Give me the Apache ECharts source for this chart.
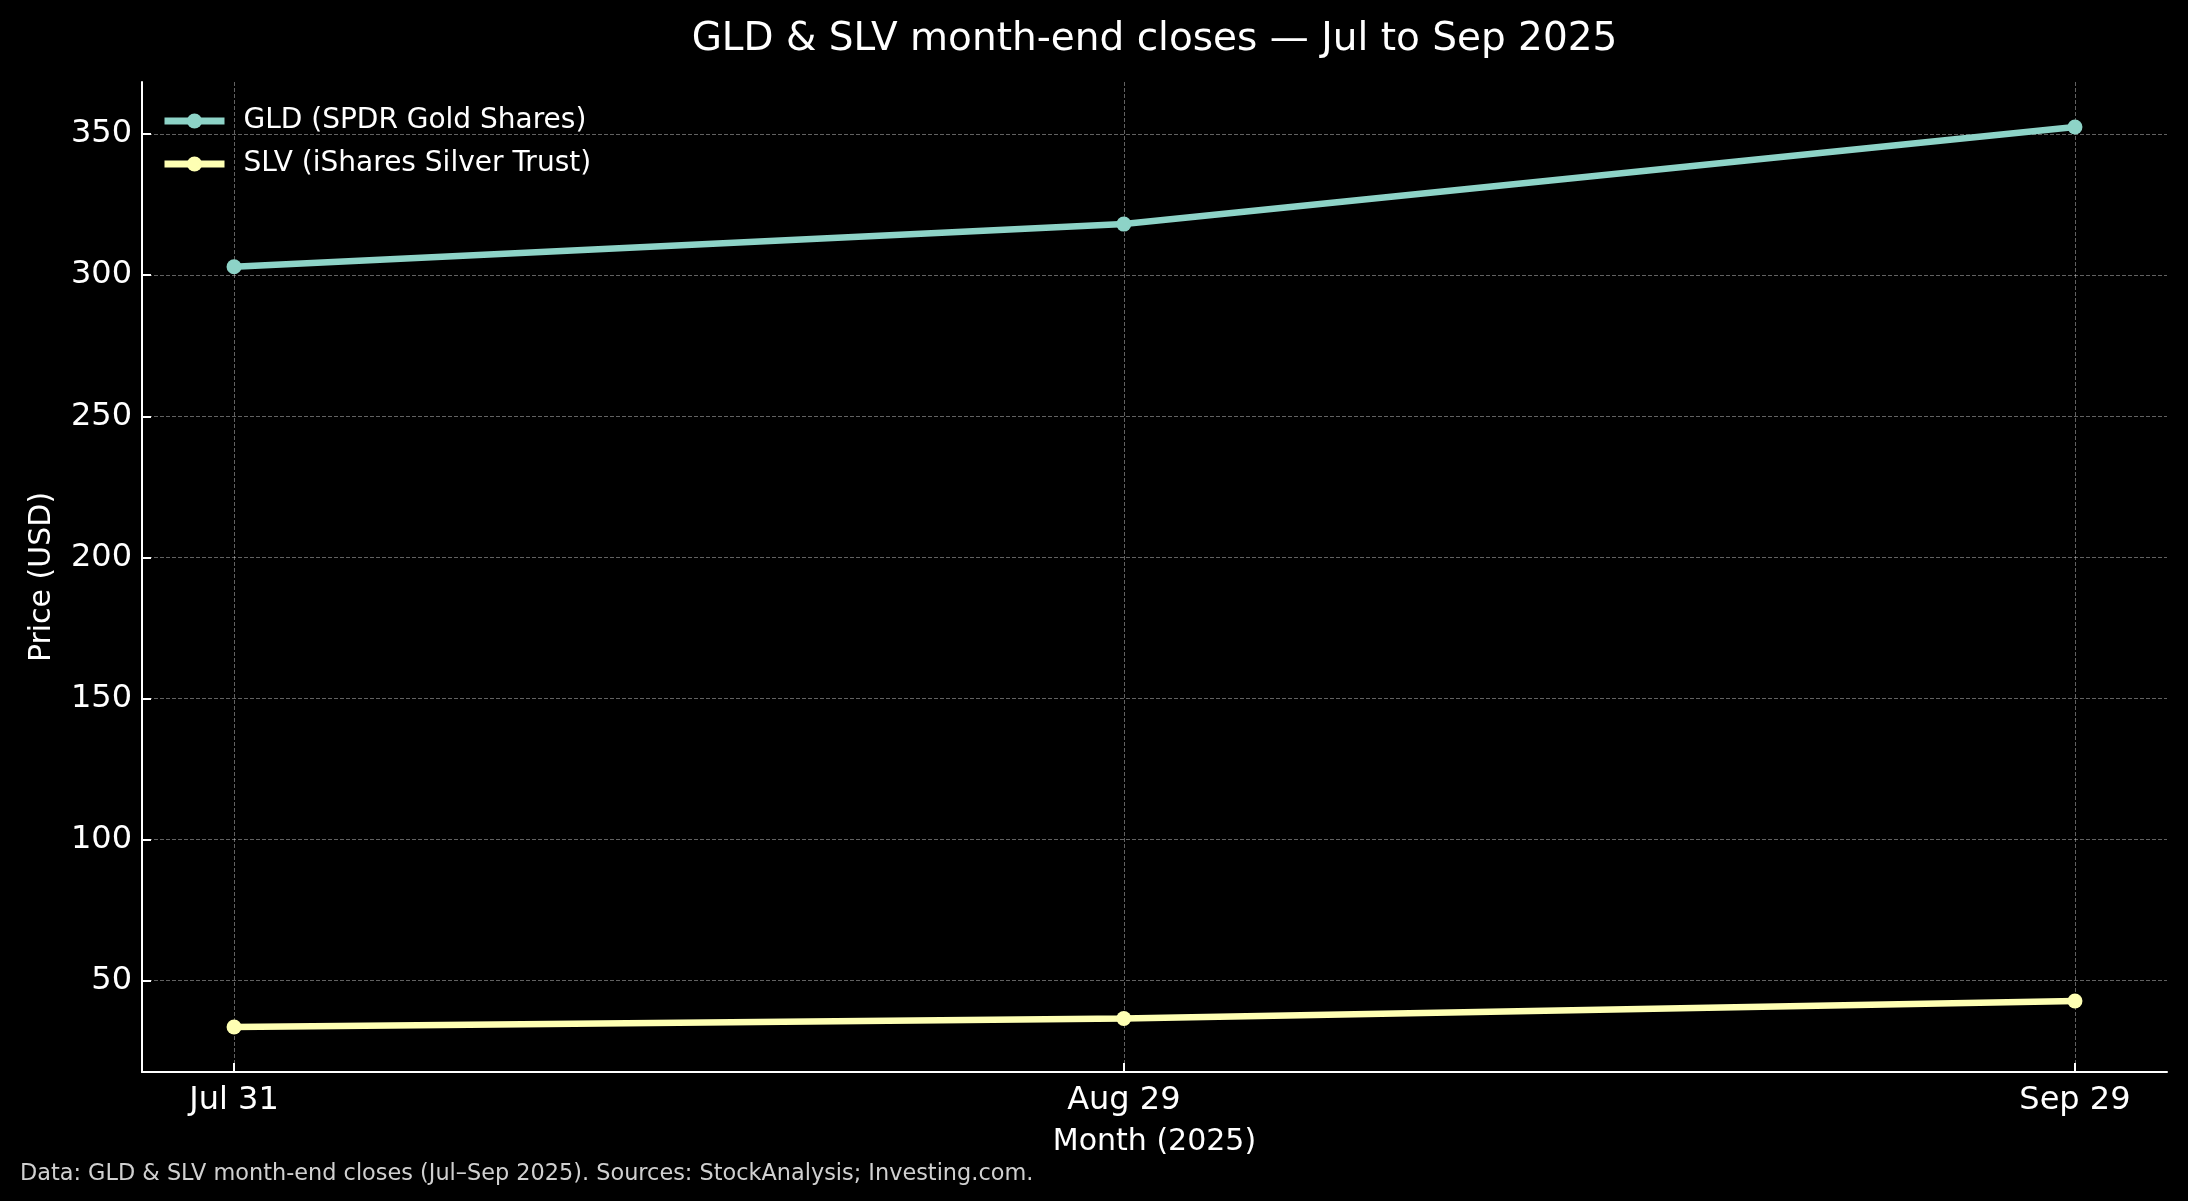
<!DOCTYPE html>
<html><head><meta charset="utf-8">
<script src="https://cdn.jsdelivr.net/npm/echarts@6/dist/echarts.min.js"></script>
<style>html,body{margin:0;padding:0;background:#000}#c{width:2188px;height:1201px}</style>
</head><body><div id="c"></div>
<script>
const dates = ['2025-07-31', '2025-08-29', '2025-09-29'];
const tickLabels = ['Jul 31', 'Aug 29', 'Sep 29'];
const gld = [303.0, 318.1, 352.5];
const slv = [33.6, 36.6, 42.8];
const yTicks = [50, 100, 150, 200, 250, 300, 350];
const seriesNames = ['GLD (SPDR Gold Shares)', 'SLV (iShares Silver Trust)'];
const colors = ['#8dd3c7', '#feffb3'];
const titleText = 'GLD & SLV month-end closes — Jul to Sep 2025';
const footerText = 'Data: GLD & SLV month-end closes (Jul–Sep 2025). Sources: StockAnalysis; Investing.com.';

const FONT = 'DejaVu Sans';
// day numbers (days since epoch) so the x scale is a plain linear date scale
const ts = dates.map(d => Math.round(Date.parse(d + 'T00:00:00Z') / 86400000));
const span = ts[ts.length - 1] - ts[0];
const xMin = ts[0] - 0.05 * span, xMax = ts[ts.length - 1] + 0.05 * span;
const all = gld.concat(slv);
const lo = Math.min(...all), hi = Math.max(...all);
const yMin = lo - 0.05 * (hi - lo), yMax = hi + 0.05 * (hi - lo);

const grid = { left: 142, right: 21, top: 82, bottom: 129 };
const gridDash = { color: 'rgba(255,255,255,0.38)', width: 1, type: [4, 2] };

const chart = echarts.init(document.getElementById('c'));
chart.setOption({
  backgroundColor: '#000',
  animation: false,
  textStyle: { fontFamily: FONT },
  grid: grid,
  graphic: [
    { type: 'text', x: 142 + (2188 - 142 - 21) / 2, y: 40,
      style: { text: titleText, fill: '#fff', font: '39px "DejaVu Sans"', align: 'center', verticalAlign: 'middle' } },
    { type: 'text', x: 20, y: 1174,
      style: { text: footerText, fill: '#d0d0d0', font: '22.4px "DejaVu Sans"', align: 'left', verticalAlign: 'middle' } }
  ],
  legend: {
    orient: 'vertical', left: 156, top: 102,
    itemWidth: 60, itemHeight: 19, itemGap: 15,
    lineStyle: { width: 7 },
    textStyle: { color: '#fff', fontSize: 28, fontFamily: FONT, padding: [0, 0, 0, 14], lineHeight: 28 },
    data: seriesNames
  },
  xAxis: {
    type: 'value', min: xMin, max: xMax,
    name: 'Month (2025)', nameLocation: 'middle', nameGap: 55,
    nameTextStyle: { color: '#fff', fontSize: 30, fontFamily: FONT },
    axisLine: { show: true, lineStyle: { color: '#fff', width: 2 } },
    axisTick: { show: true, inside: true, length: 9, lineStyle: { color: '#fff', width: 2 }, customValues: ts },
    axisLabel: { color: '#fff', fontSize: 32, fontFamily: FONT, margin: 13, customValues: ts,
      formatter: v => { const i = ts.indexOf(Math.round(v)); return i >= 0 ? tickLabels[i] : ''; } },
    splitLine: { show: true, lineStyle: gridDash }
  },
  yAxis: {
    type: 'value', min: yMin, max: yMax,
    name: 'Price (USD)', nameLocation: 'middle', nameGap: 85,
    nameTextStyle: { color: '#fff', fontSize: 30, fontFamily: FONT },
    axisLine: { show: true, lineStyle: { color: '#fff', width: 2 } },
    axisTick: { show: true, inside: true, length: 9, lineStyle: { color: '#fff', width: 2 }, customValues: yTicks },
    axisLabel: { color: '#fff', fontSize: 32, fontFamily: FONT, margin: 10, customValues: yTicks },
    splitLine: { show: true, lineStyle: gridDash }
  },
  series: [
    { name: seriesNames[0], type: 'line', data: ts.map((t, i) => [t, gld[i]]),
      symbol: 'circle', symbolSize: 15, showAllSymbol: true,
      lineStyle: { color: colors[0], width: 6.5 }, itemStyle: { color: colors[0] } },
    { name: seriesNames[1], type: 'line', data: ts.map((t, i) => [t, slv[i]]),
      symbol: 'circle', symbolSize: 15, showAllSymbol: true,
      lineStyle: { color: colors[1], width: 6.5 }, itemStyle: { color: colors[1] } }
  ]
});
</script></body></html>
